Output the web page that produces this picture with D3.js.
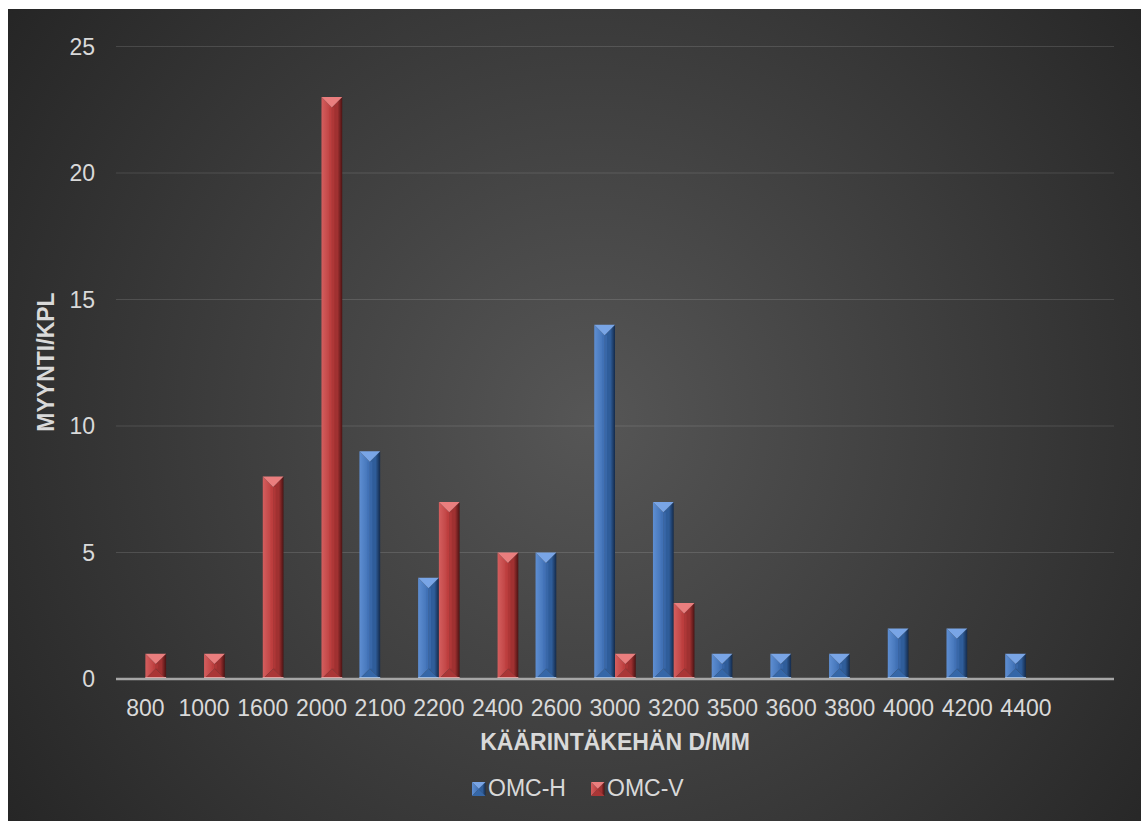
<!DOCTYPE html>
<html>
<head>
<meta charset="utf-8">
<script src="https://cdn.jsdelivr.net/npm/d3@7"></script>
<style>
  html, body { margin: 0; padding: 0; background: #ffffff; }
  svg { display: block; }
  text { font-family: "Liberation Sans", Arial, sans-serif; }
</style>
</head>
<body>
<svg id="chart" width="1141" height="821"></svg>
<script>
// ---- data ----
const categories = ["800","1000","1600","2000","2100","2200","2400","2600","3000","3200","3500","3600","3800","4000","4200","4400",""];
const seriesNames = ["OMC-H","OMC-V"];
const omcH = [null,null,null,null,9,4,null,5,14,7,1,1,1,2,2,1,null];
const omcV = [1,1,8,23,null,7,5,null,1,3,null,null,null,null,null,null,null];
const yTicks = [0,5,10,15,20,25];
const xTitle = "KÄÄRINTÄKEHÄN D/MM";
const yTitle = "MYYNTI/KPL";

const palettes = {
  "OMC-H": {top:"#79a5e6", l0:"#5e8ed2", l1:"#3f70b4", r0:"#2f5d9a", r1:"#142a4a", bottom:"#3567a8", strip:"#9fc3f0"},
  "OMC-V": {top:"#ea7e7e", l0:"#d45e5e", l1:"#bb3d3d", r0:"#a03131", r1:"#4a1313", bottom:"#aa3636", strip:"#f2a2a2"}
};

const svg = d3.select("#chart");
const W = 1141, H = 821;
const defs = svg.append("defs");

// background
const bg = defs.append("radialGradient").attr("id","bg")
  .attr("gradientUnits","userSpaceOnUse").attr("cx",590).attr("cy",420).attr("r",720);
bg.append("stop").attr("offset","0").attr("stop-color","#565656");
bg.append("stop").attr("offset","1").attr("stop-color","#252525");
svg.append("rect").attr("x",8).attr("y",9).attr("width",W-8).attr("height",H-9).attr("fill","url(#bg)");

// gradients per series
seriesNames.forEach((s,i) => {
  const p = palettes[s];
  const gl = defs.append("linearGradient").attr("id","gl"+i).attr("x1","0").attr("x2","1").attr("y1","0").attr("y2","0");
  gl.append("stop").attr("offset","0").attr("stop-color",p.l0);
  gl.append("stop").attr("offset","1").attr("stop-color",p.l1);
  const gr = defs.append("linearGradient").attr("id","gr"+i).attr("x1","0").attr("x2","1").attr("y1","0").attr("y2","0");
  gr.append("stop").attr("offset","0").attr("stop-color",p.r0);
  gr.append("stop").attr("offset","0.55").attr("stop-color",p.r0);
  gr.append("stop").attr("offset","1").attr("stop-color",p.r1);
});

const plot = {left:116, right:1114, top:46.5, bottom:679};

const x = d3.scaleBand().domain(d3.range(categories.length)).range([plot.left, plot.right]).paddingInner(0).paddingOuter(0);
const groupW = 41.5;
const xs = d3.scaleBand().domain(seriesNames).range([-groupW/2, groupW/2]).padding(0);
const y = d3.scaleLinear().domain([0,25]).range([plot.bottom, plot.top]);

// gridlines
svg.append("g").selectAll("line").data(yTicks.filter(d => d !== 0)).join("line")
  .attr("x1",plot.left).attr("x2",plot.right)
  .attr("y1",d => y(d)).attr("y2",d => y(d))
  .attr("stroke","#ffffff").attr("stroke-opacity",0.13).attr("stroke-width",1.2);

// y tick labels
svg.append("g").selectAll("text").data(yTicks).join("text")
  .attr("x",95).attr("y",d => y(d)).attr("dy","0.36em")
  .attr("text-anchor","end").attr("fill","#d9d9d9").attr("font-size","23px")
  .text(d => d);

// bevel drawing
function bevel(g, x0, x1, yTop, yBot, i, maxDepth) {
  const p = palettes[seriesNames[i]];
  const w = x1 - x0, h = yBot - yTop, mid = (x0 + x1)/2;
  const dT = Math.min(w/2, h/2, maxDepth);
  const dB = Math.min(w/2, h/2, maxDepth);
  const pts = a => a.map(q => q.join(",")).join(" ");
  // left face
  g.append("polygon").attr("points", pts([[x0,yTop],[mid,yTop+dT],[mid,yBot-dB],[x0,yBot]])).attr("fill","url(#gl"+i+")");
  // right face
  g.append("polygon").attr("points", pts([[x1,yTop],[mid,yTop+dT],[mid,yBot-dB],[x1,yBot]])).attr("fill","url(#gr"+i+")");
  // center face strip
  g.append("rect").attr("x",mid-2.5).attr("y",yTop+dT).attr("width",5).attr("height",Math.max(0,h-dT-dB)).attr("fill",p.l1).attr("opacity",0.55);
  // top triangle
  g.append("polygon").attr("points", pts([[x0,yTop],[x1,yTop],[mid,yTop+dT]])).attr("fill",p.top);
  // bottom triangle
  g.append("polygon").attr("points", pts([[x0,yBot],[x1,yBot],[mid,yBot-dB]])).attr("fill",p.bottom);
}

const seriesData = [omcH, omcV];
seriesData.forEach((vals, i) => {
  const g = svg.append("g");
  vals.forEach((v, k) => {
    if (v === null || v === 0) return;
    const cx = x(k) + x.bandwidth()/2;
    const x0 = cx + xs(seriesNames[i]);
    const x1 = x0 + xs.bandwidth();
    const bg2 = g.append("g");
    bevel(bg2, x0, x1, y(v), y(0), i, 10.5);
    bg2.append("rect").attr("x",x0).attr("y",y(0)-2).attr("width",x1-x0).attr("height",2).attr("fill",palettes[seriesNames[i]].strip);
  });
});

// x axis line
svg.append("line").attr("x1",plot.left).attr("x2",plot.right).attr("y1",y(0)).attr("y2",y(0))
  .attr("stroke","#a6a6a6").attr("stroke-width",2.5);

// x tick labels
svg.append("g").selectAll("text").data(categories).join("text")
  .attr("x",(d,k) => x(k) + x.bandwidth()/2).attr("y",716)
  .attr("text-anchor","middle").attr("fill","#d9d9d9").attr("font-size","23px")
  .text(d => d);

// axis titles
svg.append("text").attr("x",615).attr("y",750).attr("text-anchor","middle")
  .attr("fill","#d9d9d9").attr("font-size","23px").attr("font-weight","bold").text(xTitle);
svg.append("text").attr("transform","translate(54,362) rotate(-90)").attr("text-anchor","middle")
  .attr("fill","#d9d9d9").attr("font-size","23px").attr("font-weight","bold").text(yTitle);

// legend
const legendItems = [{name:"OMC-H", mx:472, tx:488}, {name:"OMC-V", mx:591, tx:607}];
const lg = svg.append("g");
legendItems.forEach((it, i) => {
  const g = lg.append("g");
  bevel(g, it.mx, it.mx+13.5, 782, 796, i, 7);
  lg.append("text").attr("x",it.tx).attr("y",796).attr("fill","#d9d9d9").attr("font-size","23px").text(it.name);
});
</script>
</body>
</html>
